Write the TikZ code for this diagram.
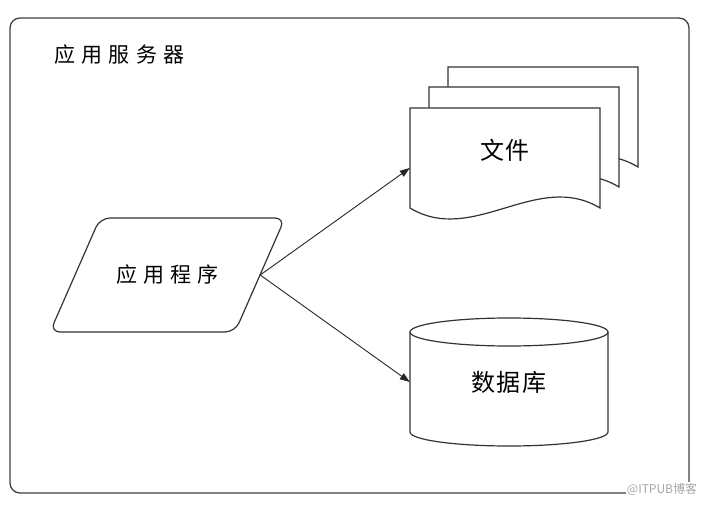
\documentclass[tikz,border=0pt]{standalone}
\usepackage{fontspec}
\setmainfont{Noto Sans CJK SC}
\usetikzlibrary{arrows.meta,positioning}

\begin{document}
\begin{tikzpicture}[x=1pt,y=-1pt,on grid,
  >={Triangle[length=10pt,width=7pt]},
  frame/.style={draw=black!75,line width=1.3pt,rounded corners=10pt},
  outline/.style={draw=black!80,line width=1.2pt,fill=white},
  bigtext/.style={font=\fontsize{24}{24}\selectfont\addfontfeature{LetterSpace=6}},
  smalltext/.style={font=\fontsize{21}{21}\selectfont\addfontfeature{LetterSpace=30}},
  slot/.style={inner sep=0pt}]
\useasboundingbox (0,0) rectangle (714,505);
\draw[frame] (10,18) rectangle (689,493);
\node[smalltext,anchor=west,inner sep=0pt] (server) at (54,55) {应用服务器};
% application
\draw[outline,rounded corners=10pt] (100,218) -- (285,218) -- (235,332) -- (50,332) -- cycle;
\node[slot,smalltext,minimum width=185pt,minimum height=114pt] (app) at (167.5,275) {应用程序};
% stacked files, back to front
\foreach \dx/\dy in {38/-41,19/-21,0/0}
  \draw[outline,shift={(\dx,\dy)}] (410,208) -- (410,108) -- (600,108) -- (600,208)
    .. controls (537,170) and (473,246) .. (410,208) -- cycle;
\node[slot,bigtext,minimum width=190pt,minimum height=84pt] (file) [above right=125pt and 337.5pt of app] {文件};
% database
\path[outline] (410,332) -- (410,432) arc[start angle=180,end angle=360,x radius=99pt,y radius=14pt]
  -- (608,332) arc[start angle=0,end angle=180,x radius=99pt,y radius=14pt] -- cycle;
\draw[outline,fill=none] (410,332) arc[start angle=180,end angle=360,x radius=99pt,y radius=14pt];
\node[slot,bigtext,minimum width=198pt,minimum height=100pt] (db) [below right=107pt and 341.5pt of app] {数据库};
\draw[->,draw=black!85,line width=0.9pt] (app.east) -- ([yshift=-18pt]file.west);
\draw[->,draw=black!85,line width=0.9pt] (app.east) -- (db.west);
\node[fill=white,text=black!35,font=\fontsize{12}{12}\selectfont,inner sep=1pt] (mark) at (662,489) {@ITPUB博客};
\end{tikzpicture}
\end{document}
